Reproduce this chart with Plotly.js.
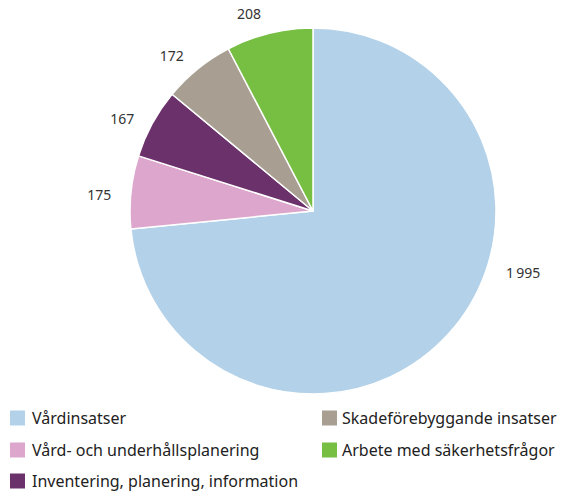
<!DOCTYPE html>
<html>
<head>
<meta charset="utf-8">
<script src="https://cdn.plot.ly/plotly-3.0.1.min.js"></script>
<style>html,body{margin:0;padding:0;background:#fff;}#chart{width:563px;height:492px;}</style>
</head>
<body>
<div id="chart"></div>
<script>
const categories = ["Vårdinsatser", "Vård- och underhållsplanering", "Inventering, planering, information", "Skadeförebyggande insatser", "Arbete med säkerhetsfrågor"];
const values = [1995, 175, 167, 172, 208];
const colors = ["#b3d1e8", "#dda6cc", "#6b316b", "#a89f92", "#76bf43"];

const W = 563, H = 492;
const legendCols = [{x: 10, tx: 30}, {x: 322, tx: 340}];
const legendRows = [418, 450, 481];
const sq = 15;

const shapes = [];
const annotations = [];
categories.forEach((name, k) => {
  const col = k < 3 ? 0 : 1;
  const row = k < 3 ? k : k - 3;
  const cy = legendRows[row];
  const c = legendCols[col];
  shapes.push({type: "rect", xref: "paper", yref: "paper",
    x0: c.x / W, x1: (c.x + sq) / W, y0: 1 - (cy + sq / 2) / H, y1: 1 - (cy - sq / 2) / H,
    fillcolor: colors[k], line: {width: 0}});
  annotations.push({xref: "paper", yref: "paper", x: c.tx / W, y: 1 - cy / H,
    xanchor: "left", yanchor: "middle", showarrow: false, text: name,
    font: {family: "Noto Sans", size: 16, color: "#222"}});
});

// label for the large slice, placed to the right as in the reference
const fmt = v => String(v).replace(/\B(?=(\d{3})+(?!\d))/g, "\u2009");
annotations.push({xref: "paper", yref: "paper", x: 523 / W, y: 1 - 272 / H,
  xanchor: "center", yanchor: "middle", showarrow: false, text: fmt(values[0]),
  font: {family: "Noto Sans", size: 14, color: "#333"}});

const R = 183, cx = 313, cy = 211;
const pie = {
  type: "pie",
  labels: categories,
  values: values,
  marker: {colors: colors, line: {color: "#ffffff", width: 1.5}},
  sort: false,
  direction: "clockwise",
  rotation: 0,
  textinfo: "none",
  hoverinfo: "label+value",
  showlegend: false,
  domain: {x: [(cx - R) / W, (cx + R) / W], y: [1 - (cy + R) / H, 1 - (cy - R) / H]}
};

// transparent pie that only carries the outside value labels of the small slices
const RL = 198, cyl = cy + 4;
const labelPie = {
  type: "pie",
  labels: categories,
  values: values,
  marker: {colors: categories.map(() => "rgba(0,0,0,0)"), line: {width: 0}},
  sort: false,
  direction: "clockwise",
  rotation: 0,
  textposition: "outside",
  text: values.map((v, i) => i === 0 ? "" : fmt(v)),
  texttemplate: "%{text}",
  textfont: {family: "Noto Sans", size: 14, color: "#333"},
  hoverinfo: "skip",
  showlegend: false,
  domain: {x: [(cx - RL) / W, (cx + RL) / W], y: [1 - (cyl + RL) / H, 1 - (cyl - RL) / H]}
};

const layout = {
  width: W, height: H,
  margin: {l: 0, r: 0, t: 0, b: 0},
  paper_bgcolor: "#ffffff",
  showlegend: false,
  shapes: shapes,
  annotations: annotations
};

Plotly.newPlot("chart", [labelPie, pie], layout, {displayModeBar: false, staticPlot: true});
</script>
</body>
</html>
